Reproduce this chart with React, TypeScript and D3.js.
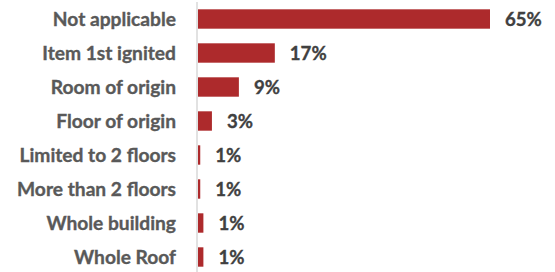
import React from "react";
import * as d3 from "d3";

const categories = [
  "Not applicable",
  "Item 1st ignited",
  "Room of origin",
  "Floor of origin",
  "Limited to 2 floors",
  "More than 2 floors",
  "Whole building",
  "Whole Roof",
];
const values = [65, 17.1, 9.1, 3.1, 0.5, 0.5, 1.2, 1.2];
const valueLabels = ["65%", "17%", "9%", "3%", "1%", "1%", "1%", "1%"];

const W = 555;
const H = 272;

export default function App() {
  const x = d3.scaleLinear().domain([0, 65]).range([198, 490]);
  const y = d3
    .scaleBand<string>()
    .domain(categories)
    .range([2, 274])
    .paddingInner(0.43)
    .paddingOuter(0.215);
  const bw = y.bandwidth();
  return (
    <svg
      width={W}
      height={H}
      style={{ position: "absolute", left: 0, top: 0, display: "block" }}
      fontFamily="Lato, 'Open Sans', sans-serif"
      fontWeight="bold"
    >
      <rect width={W} height={H} fill="#fff" />
      <line x1={197} x2={197} y1={2} y2={H} stroke="#d9d9d9" strokeWidth={1.5} />
      {categories.map((c, i) => {
        const yy = y(c)!;
        const cy = yy + bw / 2;
        return (
          <g key={c}>
            <rect x={x(0)} y={yy} width={x(values[i]) - x(0)} height={bw} fill="#ad2a2c" />
            <text
              x={176}
              y={cy}
              dy="0.36em"
              textAnchor="end"
              fontSize={19.2}
              fill="#595959"
              stroke="#595959"
              strokeWidth={0.35}
            >
              {c}
            </text>
            <text
              x={x(values[i]) + 15}
              y={cy}
              dy="0.36em"
              fontSize={18.6}
              fill="#404040"
              stroke="#404040"
              strokeWidth={0.35}
            >
              {valueLabels[i]}
            </text>
          </g>
        );
      })}
    </svg>
  );
}
